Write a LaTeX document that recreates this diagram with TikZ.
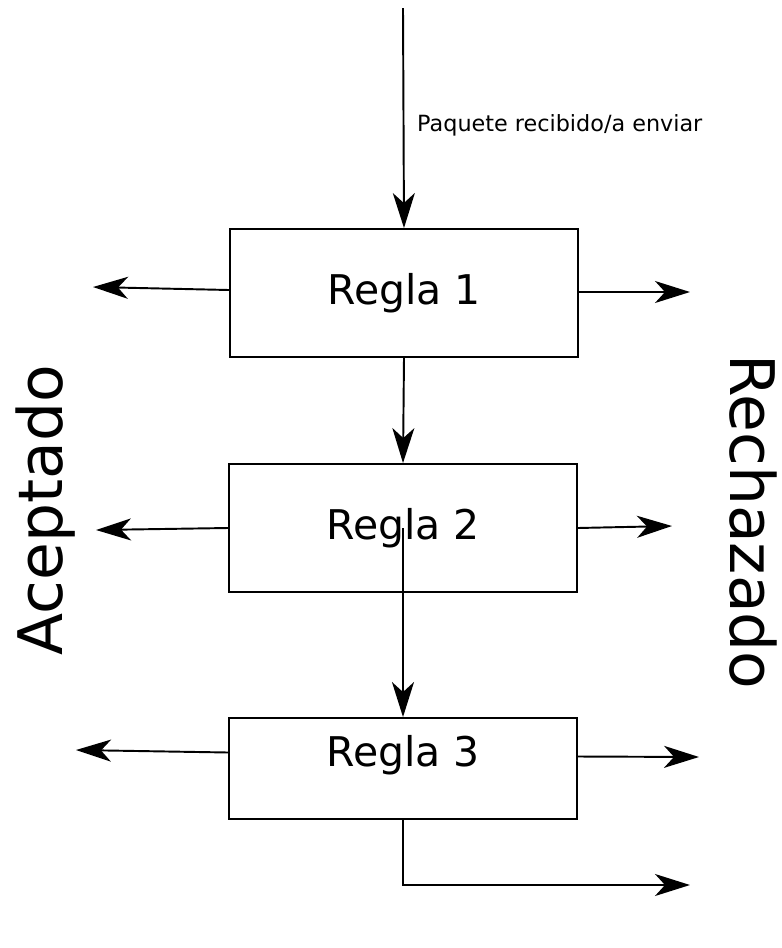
\documentclass[tikz,border=0pt]{standalone}
\usepackage{fontspec}
\setmainfont{DejaVu Sans}
\usepackage{tikz}
\usetikzlibrary{arrows.meta, calc, positioning}
\tikzstyle{regla} = [rectangle, line width=1.1pt, minimum width=6.96cm, minimum height=2.56cm, text centered, draw=black, font=\fontsize{23.3}{28}\selectfont]
\tikzstyle{lado} = [font=\fontsize{35}{40}\selectfont]
\tikzstyle{arrow} = [line width=1.1pt, -{Stealth[length=7mm, width=4.4mm, inset=2mm]}]

\begin{document}
\begin{tikzpicture}[x=0.02cm, y=-0.02cm]
	\useasboundingbox (0,0) rectangle (782,948);
	\node (Regla1) [regla] at (404,293) {Regla 1};
	\node (Regla2) [regla] at (403,528) {Regla 2};
	\node (Regla3) [regla, minimum height=2.02cm, label={[font=\fontsize{23.3}{28}\selectfont, yshift=0.26cm]center:Regla 3}] at (403,768.5) {};
	\node (Paquete) [anchor=west, font=\fontsize{12.7}{15}\selectfont] at (411,125) {Paquete recibido/a enviar};
	\node (Aceptado) [lado, rotate=90] at (46,510) {Aceptado};
	\node (Rechazado) [lado, rotate=-90] at (753,522) {Rechazado};
	\coordinate (Entrada) at (403,8);
	\coordinate (Acept1) at (93,287);
	\coordinate (Recha1) at (690,292);
	\coordinate (Acept2) at (96,530);
	\coordinate (Recha2) at (672,526);
	\coordinate (Acept3) at (76,750);
	\coordinate (Recha3) at (699,757);
	\coordinate (Salida) at (690,885);
	\draw [arrow] (Entrada) -- (Regla1.north);
	\draw [arrow] (Regla1.south) -- (Regla2.north);
	\draw [arrow] (Regla2.center) -- (Regla3.north);
	\draw [arrow] (Regla3.south) |- (Salida);
	\draw [arrow] ($(Regla1.west)+(0,-3)$) -- (Acept1);
	\draw [arrow] ($(Regla1.east)+(0,-1)$) -- (Recha1);
	\draw [arrow] (Regla2.west) -- (Acept2);
	\draw [arrow] (Regla2.east) -- (Recha2);
	\draw [arrow] ($(Regla3.west)+(0,-16)$) -- (Acept3);
	\draw [arrow] ($(Regla3.east)+(0,-12)$) -- (Recha3);
\end{tikzpicture}
\end{document}
